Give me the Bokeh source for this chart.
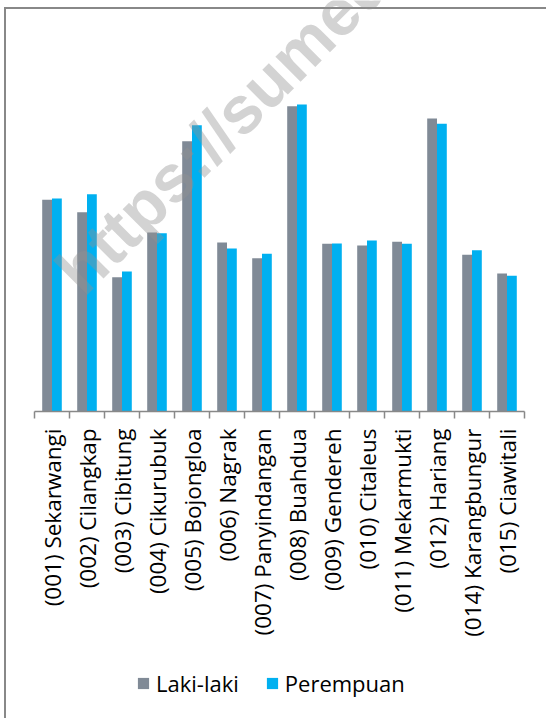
import math
from bokeh.plotting import figure
from bokeh.layouts import column
from bokeh.models import (Range1d, FixedTicker, LinearAxis, Legend, LegendItem,
                          Label, ColumnDataSource)
from bokeh.transform import dodge
from bokeh.embed import file_html
from bokeh.resources import INLINE

kecamatan = ["(001) Sekarwangi", "(002) Cilangkap", "(003) Cibitung", "(004) Cikurubuk",
             "(005) Bojongloa", "(006) Nagrak", "(007) Panyindangan", "(008) Buahdua",
             "(009) Gendereh", "(010) Citaleus", "(011) Mekarmukti", "(012) Hariang",
             "(014) Karangbungur", "(015) Ciawitali"]
laki = [10585, 9965, 6715, 8950, 13515, 8450, 7665, 15265, 8385, 8300, 8485, 14650, 7835, 6900]
perempuan = [10650, 10865, 7000, 8915, 14315, 8150, 7885, 15350, 8400, 8550, 8385, 14385, 8065, 6785]
series = ["Laki-laki", "Perempuan"]

GREY = "#808A96"
CYAN = "#00B0F0"
LINE = "#888888"
FONT = "Open Sans"

idx = list(range(len(kecamatan)))
src = ColumnDataSource(dict(x=idx, laki=laki, perempuan=perempuan))

# frame spans y = 0..411 px, 50 units per px
p = figure(width=546, height=668, x_range=Range1d(-0.5, len(kecamatan) - 0.5),
           y_range=Range1d(0, 20550), output_backend="svg", toolbar_location=None,
           x_axis_location=None, y_axis_location=None,
           min_border_left=34, min_border_right=22, min_border_top=0, min_border_bottom=257)
p.title.visible = False
p.outline_line_color = None
p.grid.visible = False
p.background_fill_color = None
p.border_fill_color = None
p.styles = {
    "background": ("linear-gradient(#888888, #888888) 4px 7px / 2px 100% no-repeat, "
                   "linear-gradient(#888888, #888888) 4px 7px / 100% 2px no-repeat, white"),
}

r1 = p.vbar(x=dodge("x", -0.14), top="laki", width=0.28, source=src,
            fill_color=GREY, line_color=None)
r2 = p.vbar(x=dodge("x", 0.14), top="perempuan", width=0.28, source=src,
            fill_color=CYAN, line_color=None)

axis = LinearAxis(ticker=FixedTicker(ticks=idx, minor_ticks=[i - 0.5 for i in range(len(kecamatan) + 1)]),
                  major_label_overrides={i: n for i, n in zip(idx, kecamatan)})
axis.major_label_orientation = math.pi / 2
axis.axis_line_color = LINE
axis.axis_line_width = 1.5
axis.major_tick_out = 0
axis.major_tick_in = 0
axis.major_tick_line_color = None
axis.minor_tick_out = 7
axis.minor_tick_in = 0
axis.minor_tick_line_color = LINE
axis.minor_tick_line_width = 1.5
axis.major_label_standoff = 10
axis.major_label_text_font = FONT
axis.major_label_text_font_size = "22.5px"
axis.major_label_text_color = "#000000"
p.add_layout(axis, "below")

wm = Label(x=33, y=130, x_units="screen", y_units="screen",
           text="https://sumedangkab.bps.go.id", angle=45, angle_units="deg",
           text_font="Liberation Sans", text_font_style="bold", text_font_size="67px",
           text_color="#909090", text_alpha=0.4, text_baseline="middle", text_align="left")
p.add_layout(wm)

# legend strip below the chart (its bars fall far outside its own ranges)
q = figure(width=546, height=50, x_range=Range1d(-200, -199), y_range=Range1d(1e6, 1e6 + 1),
           output_backend="svg", toolbar_location=None,
           x_axis_location=None, y_axis_location=None,
           min_border_left=0, min_border_right=0, min_border_top=0, min_border_bottom=0)
q.title.visible = False
q.outline_line_color = None
q.grid.visible = False
q.background_fill_color = None
q.border_fill_color = None
q.styles = {
    "background": "linear-gradient(#888888, #888888) 4px 0px / 2px 100% no-repeat, white",
}
l1 = q.vbar(x="x", top="laki", width=0.28, source=src, fill_color=GREY, line_color=None)
l2 = q.vbar(x="x", top="perempuan", width=0.28, source=src, fill_color=CYAN, line_color=None)
legend = Legend(items=[LegendItem(label=series[0], renderers=[l1]),
                       LegendItem(label=series[1], renderers=[l2])],
                location=(102, 20.5), orientation="horizontal",
                glyph_width=14, glyph_height=14, label_standoff=6, spacing=26,
                padding=0, margin=0, border_line_color=None, background_fill_alpha=0,
                label_text_font=FONT, label_text_font_size="22px", label_text_color="#000000")
q.add_layout(legend)

layout = column(p, q, spacing=0)
open("out.html", "w").write(file_html(layout, INLINE))
